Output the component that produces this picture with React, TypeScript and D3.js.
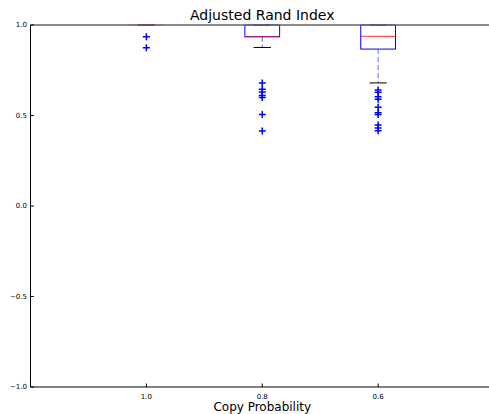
import React from 'react';
import * as d3 from 'd3';

// values
const categories = ['1.0', '0.8', '0.6'];
const q1 = [1.0, 0.935, 0.867];
const medians = [1.0, 0.935, 0.937];
const q3 = [1.0, 1.0, 1.0];
const whiskerLow = [1.0, 0.876, 0.68];
const whiskerHigh = [1.0, 1.0, 1.0];
const outliers = [
  [0.935, 0.875],
  [0.68, 0.645, 0.63, 0.61, 0.6, 0.505, 0.415],
  [0.641, 0.628, 0.604, 0.59, 0.545, 0.515, 0.505, 0.448, 0.431, 0.416],
];
const yTicks = [1.0, 0.5, 0.0, -0.5, -1.0];

const W = 489;
const H = 414;
const left = 30.5;
const right = 494;
const top = 25;
const bottom = 387;
const font = 'DejaVu Sans, sans-serif';

const App = () => {
  const x = d3.scaleLinear().domain([0, 4]).range([left, right]);
  const y = d3.scaleLinear().domain([-1, 1]).range([bottom, top]);
  const bw = x(0.3) - x(0);
  const minus = (v: number) => d3.format('.1f')(v).replace('-', '\u2212');

  return (
    <svg width={W} height={H} style={{ position: 'absolute', left: 0, top: 0 }}>
      <rect width={W} height={H} fill="#fff" />

      {categories.map((c, i) => {
        const cx = x(i + 1);
        return (
          <g key={c}>
            {/* whiskers */}
            <line x1={cx} x2={cx} y1={y(q1[i])} y2={y(whiskerLow[i])}
              stroke="blue" strokeOpacity={0.6} strokeDasharray="5,3" />
            <line x1={cx} x2={cx} y1={y(q3[i])} y2={y(whiskerHigh[i])}
              stroke="blue" strokeOpacity={0.6} strokeDasharray="5,3" />
            {/* caps */}
            <line x1={cx - bw / 4} x2={cx + bw / 4} y1={y(whiskerLow[i])} y2={y(whiskerLow[i])} stroke="#000" />
            <line x1={cx - bw / 4} x2={cx + bw / 4} y1={y(whiskerHigh[i])} y2={y(whiskerHigh[i])} stroke="#000" />
            {/* box */}
            <rect x={cx - bw / 2} y={y(q3[i])} width={bw} height={y(q1[i]) - y(q3[i])}
              fill="none" stroke="blue" />
            <line x1={cx - bw / 2} x2={cx + bw / 2} y1={y(medians[i])} y2={y(medians[i])}
              stroke="red" strokeOpacity={0.65} strokeWidth={1.2} />
            {/* fliers */}
            {outliers[i].map((v, j) => (
              <path key={j} d={`M${cx - 3.5},${y(v)}h7M${cx},${y(v) - 3.5}v7`}
                stroke="blue" strokeWidth={1.5} />
            ))}
          </g>
        );
      })}

      {/* spines */}
      <line x1={left} x2={W} y1={top} y2={top} stroke="#666" strokeWidth={1.5} />
      <line x1={left} x2={W} y1={bottom} y2={bottom} stroke="#000" />
      <line x1={left} x2={left} y1={top} y2={bottom} stroke="#000" />

      {/* y ticks */}
      {yTicks.map((t) => (
        <g key={t}>
          <line x1={left} x2={left + 3.5} y1={y(t)} y2={y(t)} stroke="#000" />
          <text x={left - 3.5} y={y(t)} dy="0.35em" textAnchor="end"
            fontFamily={font} fontSize={7} fill="#000">{minus(t)}</text>
        </g>
      ))}

      {/* x ticks */}
      {categories.map((c, i) => (
        <g key={c}>
          <line x1={x(i + 1)} x2={x(i + 1)} y1={bottom} y2={bottom - 3.5} stroke="#000" />
          <text x={x(i + 1)} y={bottom + 12} textAnchor="middle"
            fontFamily={font} fontSize={7} fill="#000">{c}</text>
        </g>
      ))}

      <text x={(left + right) / 2} y={20} textAnchor="middle"
        fontFamily={font} fontSize={14} fill="#000">Adjusted Rand Index</text>
      <text x={(left + right) / 2} y={411} textAnchor="middle"
        fontFamily={font} fontSize={12} fill="#000">Copy Probability</text>
    </svg>
  );
};

export default App;
